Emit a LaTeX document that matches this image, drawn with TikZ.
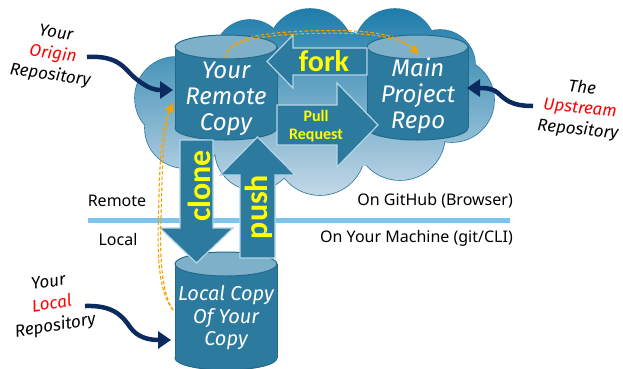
\documentclass[tikz,border=0pt]{standalone}
\usepackage{fontspec}
\setmainfont{Noto Sans}
\newfontfamily\uifont{Noto Sans}
\newfontfamily\handfont{Fira Sans}
\newfontfamily\calfont{Carlito}
\usetikzlibrary{arrows.meta}
\definecolor{cylbody}{HTML}{2D7A9F}
\definecolor{cyltop}{HTML}{7EB0C9}
\definecolor{cylline}{HTML}{226A8C}
\definecolor{arrline}{HTML}{B4D6E6}
\definecolor{cloudtop}{HTML}{1E7DAA}
\definecolor{cloudmid}{HTML}{4D97BF}
\definecolor{cloudbot}{HTML}{C3D8E7}
\definecolor{cloudline}{HTML}{2B7DA6}
\definecolor{navy}{HTML}{0B2A5E}
\definecolor{orangec}{HTML}{F5A300}
\definecolor{divider}{HTML}{7CC4EC}
\definecolor{lblyellow}{HTML}{FFFF00}
\newcommand\drawcyl[5]{%
  \filldraw[fill=cylbody, draw=cylline, line width=1pt] (#1,#3) ellipse[x radius=#4, y radius=#5];
  \fill[cylbody] (#1-#4,#2) rectangle (#1+#4,#3);
  \draw[cylline, line width=1pt] (#1-#4,#2) -- (#1-#4,#3) (#1+#4,#2) -- (#1+#4,#3);
  \filldraw[fill=cyltop, draw=cylline, line width=1pt] (#1,#2) ellipse[x radius=#4, y radius=#5];
}
\tikzset{
  cyltext/.style={text=white, align=center, font=\handfont\itshape\fontsize{24}{26}\selectfont, inner sep=0pt},
  blockarrow/.style={fill=cylbody, draw=arrline, line width=1.2pt, line join=miter},
  arrlbl/.style={text=lblyellow, font=\calfont\bfseries\fontsize{32}{32}\selectfont, inner sep=0pt},
  callout/.style={align=center, font=\handfont\itshape\fontsize{17}{21}\selectfont, inner sep=0pt},
  navyarrow/.style={draw=navy, line width=4.5pt, -{Triangle[length=13pt,width=17pt]}},
  orangedash/.style={draw=orangec, line width=1.1pt, dash pattern=on 3.5pt off 2pt},
  orangetip/.style={draw=orangec, fill=orangec, line width=0.4pt, -{Triangle[length=9pt,width=9pt]}},
  uilbl/.style={font=\uifont\fontsize{16}{18}\selectfont, inner sep=0pt}
}
\begin{document}
\begin{tikzpicture}[x=1pt,y=-1pt]
\clip (0,0) rectangle (623,368);
\fill[white] (0,0) rectangle (623,368);
% cloud outline (outer half stays visible)
\foreach \cx/\cy/\r in {176/98/41, 185/128/40, 255/150/40, 320/150/45, 400/135/45, 452/100/42, 250/55/35, 310/52/43, 395/50/41, 440/65/35}
  \draw[cloudline, line width=1.6pt] (\cx,\cy) circle[radius=\r];
\shade[top color=cloudtop, middle color=cloudmid, bottom color=cloudbot]
  (176,98) circle[radius=41] (185,128) circle[radius=40] (255,150) circle[radius=40]
  (320,150) circle[radius=45] (400,135) circle[radius=45] (452,100) circle[radius=42]
  (250,55) circle[radius=35] (310,52) circle[radius=43] (395,50) circle[radius=41]
  (440,65) circle[radius=35] (320,100) ellipse[x radius=130, y radius=70];
% divider
\coordinate (divL) at (88,220);
\coordinate (divR) at (510,220);
\draw[divider, line width=5pt] (divL) -- (divR);
\node[uilbl] (lremote) at (117,201) {Remote};
\node[uilbl] (llocal) at (118,239) {Local};
\node[uilbl, anchor=east] (lgithub) at (513,201) {On GitHub (Browser)};
\node[uilbl, anchor=east] (lmachine) at (513,238) {On Your Machine (git/CLI)};
% cylinders
\drawcyl{226}{47}{128}{51}{12}
\drawcyl{417.5}{47}{128}{50.5}{12}
\drawcyl{226}{264}{358}{51}{12}
\node[cyltext, minimum width=102pt] (remote) at (226,99) {Your\\Remote\\Copy};
\node[cyltext, minimum width=101pt] (main) at (418,96) {Main\\Project\\Repo};
\node[cyltext, minimum width=102pt, font=\handfont\itshape\fontsize{20}{22.5}\selectfont] (local) at (226,318) {Local Copy\\Of Your\\Copy};
% block arrows
\draw[blockarrow] (267,61.5) -- (293,35) -- (293,48) -- (367,48) -- (367,75) -- (293,75) -- (293,88) -- cycle;
\node[arrlbl, font=\calfont\bfseries\fontsize{30}{30}\selectfont] (fork) at (324,61) {fork};
\draw[blockarrow] (277,105) -- (337,105) -- (337,83) -- (378,125) -- (337,167) -- (337,145) -- (277,145) -- cycle;
\node[arrlbl, align=center, font=\calfont\bfseries\fontsize{16}{18}\selectfont] (pr) at (316,126) {Pull\\Request};
\draw[blockarrow] (180,140) -- (213,140) -- (213,228) -- (233,228) -- (196.5,263) -- (160,228) -- (180,228) -- cycle;
\node[arrlbl, rotate=90] (clone) at (199,186) {clone};
\draw[blockarrow] (240,258) -- (275,258) -- (275,175) -- (295,175) -- (257.5,137) -- (220,175) -- (240,175) -- cycle;
\node[arrlbl, rotate=90] (push) at (259,207) {push};
% orange dashed double lines
\coordinate (oLs) at (173,310);
\coordinate (oLe) at (169.5,111);
\coordinate (oLt) at (173,103);
\foreach \s in {-1.3,1.3}
  \draw[orangedash, xshift=\s pt] (oLs) .. controls (160,293) and (158,255) .. (160,210) .. controls (161,150) and (164,125) .. (oLe);
\draw[orangetip] (oLe) -- (oLt);
\coordinate (oTs) at (225,57);
\coordinate (oTe) at (411,47);
\coordinate (oTt) at (419,54);
\foreach \s in {-1.3,1.3}
  \draw[orangedash, yshift=\s pt] (oTs) .. controls (230,38) and (265,33) .. (320,32) .. controls (370,31) and (395,35) .. (oTe);
\draw[orangetip] (oTe) -- (oTt);
% callouts
\node[callout, rotate=-8] (corigin) at (53,55) {Your\\\textcolor{red}{Origin}\\Repository};
\node[callout, rotate=-6] (cup) at (580,109) {The\\\textcolor{red}{Upstream}\\Repository};
\node[callout, rotate=9, font=\handfont\itshape\fontsize{17}{22}\selectfont] (clocal) at (52,305) {Your\\\textcolor{red}{Local}\\Repository};
\coordinate (nOs) at (87,57);
\coordinate (nOt) at (173,90);
\draw[navyarrow] (nOs) .. controls (120,55) and (125,70) .. (135,78) .. controls (145,86) and (152,90) .. (nOt);
\coordinate (nUs) at (533,106);
\coordinate (nUt) at (467,88);
\draw[navyarrow] (nUs) .. controls (510,106) and (505,99) .. (498,93) .. controls (492,88) and (485,88) .. (nUt);
\coordinate (nLs) at (85,306);
\coordinate (nLt) at (171,340);
\draw[navyarrow] (nLs) .. controls (112,305) and (122,315) .. (130,327) .. controls (137,337) and (148,340) .. (nLt);
\end{tikzpicture}
\end{document}
